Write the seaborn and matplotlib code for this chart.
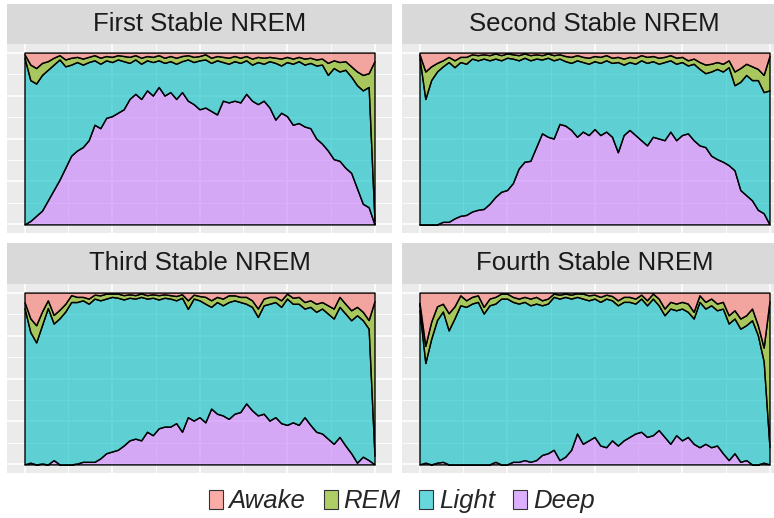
import numpy as np
import pandas as pd
import matplotlib
matplotlib.use("Agg")
import matplotlib.pyplot as plt
from matplotlib.patches import Patch, Rectangle
from matplotlib.colors import to_rgba
import seaborn as sns

# ---------------- data (proportion of epochs in each stage) ----------------
panel_titles = ["First Stable NREM", "Second Stable NREM",
                "Third Stable NREM", "Fourth Stable NREM"]
stages = ["Awake", "REM", "Light", "Deep"]
stage_colors = ["#F8766D", "#7CAE00", "#00BFC4", "#C77CFF"]

p1_deep = [0.00, 0.02, 0.05, 0.08, 0.14, 0.20, 0.26, 0.33, 0.40, 0.43,
           0.45, 0.49, 0.58, 0.56, 0.62, 0.63, 0.65, 0.67, 0.73, 0.76,
           0.73, 0.78, 0.75, 0.80, 0.75, 0.77, 0.73, 0.77, 0.72, 0.70,
           0.67, 0.68, 0.66, 0.64, 0.72, 0.71, 0.72, 0.71, 0.76, 0.72,
           0.70, 0.72, 0.68, 0.61, 0.65, 0.63, 0.58, 0.59, 0.57, 0.56,
           0.50, 0.47, 0.43, 0.38, 0.37, 0.33, 0.30, 0.21, 0.12, 0.10,
           0.00]
p1_light = [0.97, 0.82, 0.77, 0.79, 0.76, 0.73, 0.70, 0.59, 0.53, 0.515,
            0.48, 0.455, 0.375, 0.375, 0.335, 0.315, 0.31, 0.28, 0.21, 0.20,
            0.205, 0.175, 0.195, 0.155, 0.19, 0.18, 0.205, 0.18, 0.24, 0.245,
            0.285, 0.28, 0.28, 0.315, 0.225, 0.225, 0.23, 0.23, 0.195, 0.21,
            0.245, 0.215, 0.27, 0.33, 0.275, 0.315, 0.355, 0.36, 0.36, 0.38,
            0.425, 0.46, 0.44, 0.53, 0.52, 0.57, 0.56, 0.60, 0.66, 0.70,
            0.02]
p1_rem = [0.02, 0.09, 0.09, 0.07, 0.05, 0.04, 0.025, 0.04, 0.04, 0.03,
          0.035, 0.03, 0.03, 0.035, 0.025, 0.03, 0.025, 0.03, 0.035, 0.025,
          0.035, 0.025, 0.03, 0.03, 0.03, 0.03, 0.035, 0.03, 0.025, 0.03,
          0.025, 0.03, 0.03, 0.025, 0.03, 0.035, 0.03, 0.03, 0.025, 0.035,
          0.03, 0.035, 0.025, 0.03, 0.04, 0.03, 0.03, 0.025, 0.035, 0.03,
          0.035, 0.035, 0.07, 0.045, 0.055, 0.05, 0.06, 0.08, 0.09, 0.08,
          0.93]
p1_awake = [0.01, 0.07, 0.09, 0.06, 0.05, 0.03, 0.015, 0.04, 0.03, 0.025,
            0.035, 0.025, 0.015, 0.03, 0.02, 0.025, 0.015, 0.02, 0.025, 0.015,
            0.03, 0.02, 0.025, 0.015, 0.03, 0.02, 0.03, 0.02, 0.015, 0.025,
            0.02, 0.01, 0.03, 0.02, 0.025, 0.03, 0.02, 0.03, 0.02, 0.035,
            0.025, 0.03, 0.025, 0.03, 0.035, 0.025, 0.035, 0.025, 0.035, 0.03,
            0.04, 0.035, 0.06, 0.045, 0.055, 0.05, 0.08, 0.11, 0.13, 0.12,
            0.05]

p2_deep = [0, 0, 0, 0, 0.015, 0.015, 0.035, 0.05, 0.055, 0.075,
           0.085, 0.09, 0.12, 0.16, 0.19, 0.20, 0.24, 0.325, 0.365, 0.37,
           0.45, 0.53, 0.51, 0.50, 0.585, 0.575, 0.55, 0.51, 0.54, 0.52,
           0.555, 0.52, 0.54, 0.51, 0.42, 0.52, 0.55, 0.52, 0.49, 0.46,
           0.51, 0.50, 0.49, 0.54, 0.49, 0.52, 0.53, 0.49, 0.46, 0.45,
           0.40, 0.38, 0.365, 0.345, 0.315, 0.20, 0.17, 0.14, 0.085, 0.065,
           0]
p2_light = [0.97, 0.73, 0.84, 0.89, 0.905, 0.93, 0.88, 0.895, 0.88, 0.89,
            0.87, 0.875, 0.835, 0.805, 0.765, 0.77, 0.725, 0.63, 0.605, 0.585,
            0.515, 0.43, 0.46, 0.455, 0.38, 0.375, 0.39, 0.445, 0.405, 0.415,
            0.395, 0.42, 0.415, 0.43, 0.525, 0.41, 0.395, 0.415, 0.465, 0.48,
            0.44, 0.435, 0.455, 0.415, 0.445, 0.425, 0.395, 0.445, 0.445, 0.43,
            0.49, 0.525, 0.525, 0.57, 0.495, 0.63, 0.70, 0.70, 0.755, 0.705,
            0.78]
p2_rem = [0.02, 0.16, 0.08, 0.05, 0.035, 0.03, 0.04, 0.03, 0.04, 0.025,
          0.03, 0.025, 0.03, 0.03, 0.03, 0.025, 0.025, 0.03, 0.025, 0.03,
          0.025, 0.025, 0.025, 0.03, 0.025, 0.03, 0.035, 0.03, 0.03, 0.035,
          0.03, 0.035, 0.03, 0.03, 0.03, 0.035, 0.03, 0.035, 0.03, 0.035,
          0.03, 0.035, 0.03, 0.03, 0.035, 0.03, 0.03, 0.03, 0.04, 0.05,
          0.045, 0.04, 0.045, 0.04, 0.08, 0.08, 0.065, 0.08, 0.065, 0.10,
          0.20]
p2_awake = [0.01, 0.11, 0.08, 0.06, 0.045, 0.025, 0.045, 0.025, 0.025, 0.01,
            0.015, 0.01, 0.015, 0.005, 0.015, 0.005, 0.01, 0.015, 0.005, 0.015,
            0.01, 0.015, 0.005, 0.015, 0.01, 0.02, 0.025, 0.015, 0.025, 0.03,
            0.02, 0.025, 0.015, 0.03, 0.025, 0.035, 0.025, 0.03, 0.015, 0.025,
            0.02, 0.03, 0.025, 0.015, 0.03, 0.025, 0.045, 0.035, 0.055, 0.07,
            0.065, 0.055, 0.065, 0.045, 0.11, 0.09, 0.065, 0.08, 0.095, 0.13,
            0.02]

p3_deep = [0, 0.01, 0, 0.005, 0, 0.025, 0, 0, 0, 0.005,
           0.015, 0.015, 0.015, 0.035, 0.065, 0.075, 0.085, 0.11, 0.14, 0.15,
           0.14, 0.19, 0.17, 0.21, 0.22, 0.22, 0.24, 0.19, 0.275, 0.255,
           0.275, 0.245, 0.325, 0.295, 0.285, 0.265, 0.295, 0.305, 0.355, 0.315,
           0.285, 0.295, 0.255, 0.275, 0.24, 0.23, 0.245, 0.23, 0.275, 0.23,
           0.19, 0.18, 0.15, 0.12, 0.16, 0.11, 0.065, 0.01, 0.045, 0.025,
           0]
p3_light = [0.91, 0.76, 0.71, 0.805, 0.91, 0.795, 0.85, 0.89, 0.945, 0.94,
            0.94, 0.92, 0.95, 0.92, 0.90, 0.90, 0.885, 0.85, 0.83, 0.815,
            0.835, 0.775, 0.80, 0.75, 0.75, 0.745, 0.715, 0.78, 0.63, 0.71,
            0.68, 0.69, 0.592, 0.65, 0.641, 0.68, 0.66, 0.64, 0.58, 0.602,
            0.573, 0.631, 0.68, 0.67, 0.677, 0.735, 0.69, 0.705, 0.632, 0.687,
            0.698, 0.727, 0.728, 0.729, 0.757, 0.768, 0.774, 0.858, 0.794, 0.765,
            0.05]
p3_rem = [0.035, 0.08, 0.10, 0.08, 0.045, 0.05, 0.05, 0.045, 0.04, 0.03,
          0.02, 0.03, 0.023, 0.029, 0.029, 0.019, 0.024, 0.025, 0.02, 0.02,
          0.02, 0.02, 0.02, 0.025, 0.02, 0.02, 0.025, 0.02, 0.05, 0.023,
          0.025, 0.04, 0.038, 0.03, 0.039, 0.039, 0.029, 0.03, 0.04, 0.038,
          0.049, 0.039, 0.04, 0.03, 0.038, 0.029, 0.035, 0.04, 0.038, 0.038,
          0.047, 0.038, 0.048, 0.058, 0.058, 0.057, 0.058, 0.049, 0.049, 0.05,
          0.90]
p3_awake = [0.055, 0.15, 0.19, 0.11, 0.045, 0.13, 0.10, 0.065, 0.015, 0.025,
            0.025, 0.035, 0.012, 0.016, 0.006, 0.006, 0.006, 0.015, 0.01, 0.015,
            0.005, 0.015, 0.01, 0.015, 0.01, 0.015, 0.02, 0.01, 0.045, 0.012,
            0.02, 0.025, 0.045, 0.025, 0.035, 0.016, 0.016, 0.025, 0.025, 0.045,
            0.093, 0.035, 0.025, 0.025, 0.045, 0.006, 0.03, 0.025, 0.055, 0.045,
            0.065, 0.055, 0.074, 0.093, 0.025, 0.065, 0.103, 0.083, 0.112, 0.16,
            0.05]

p4_deep = [0, 0.01, 0, 0.01, 0.015, 0, 0, 0, 0, 0,
           0, 0, 0, 0.015, 0, 0, 0.015, 0.015, 0.025, 0.015,
           0.025, 0.055, 0.065, 0.085, 0.025, 0.045, 0.085, 0.18, 0.12, 0.14,
           0.16, 0.11, 0.10, 0.14, 0.11, 0.14, 0.16, 0.18, 0.19, 0.16,
           0.17, 0.20, 0.16, 0.12, 0.17, 0.14, 0.16, 0.12, 0.10, 0.12,
           0.10, 0.11, 0.065, 0.025, 0.065, 0.015, 0.025, 0, 0, 0.01,
           0]
p4_light = [0.90, 0.58, 0.73, 0.83, 0.875, 0.78, 0.85, 0.926, 0.917, 0.936,
            0.946, 0.878, 0.926, 0.921, 0.965, 0.965, 0.931, 0.921, 0.921, 0.911,
            0.911, 0.871, 0.871, 0.89, 0.94, 0.93, 0.88, 0.795, 0.845, 0.815,
            0.805, 0.836, 0.865, 0.815, 0.816, 0.806, 0.786, 0.756, 0.775, 0.766,
            0.795, 0.726, 0.708, 0.787, 0.727, 0.767, 0.728, 0.729, 0.846, 0.787,
            0.826, 0.787, 0.842, 0.795, 0.784, 0.775, 0.785, 0.839, 0.752, 0.59,
            0.10]
p4_rem = [0.04, 0.10, 0.10, 0.08, 0.045, 0.10, 0.07, 0.058, 0.038, 0.039,
          0.038, 0.039, 0.039, 0.039, 0.029, 0.029, 0.029, 0.029, 0.029, 0.039,
          0.039, 0.029, 0.029, 0.019, 0.023, 0.019, 0.023, 0.021, 0.029, 0.029,
          0.023, 0.029, 0.023, 0.025, 0.029, 0.029, 0.029, 0.029, 0.023, 0.029,
          0.029, 0.039, 0.039, 0.039, 0.039, 0.039, 0.048, 0.039, 0.038, 0.039,
          0.039, 0.039, 0.039, 0.048, 0.048, 0.059, 0.058, 0.068, 0.058, 0.08,
          0.85]
p4_awake = [0.06, 0.31, 0.17, 0.08, 0.065, 0.12, 0.08, 0.016, 0.045, 0.025,
            0.016, 0.083, 0.035, 0.025, 0.006, 0.006, 0.025, 0.035, 0.025, 0.035,
            0.025, 0.045, 0.035, 0.006, 0.012, 0.006, 0.012, 0.004, 0.006, 0.016,
            0.012, 0.025, 0.012, 0.02, 0.045, 0.025, 0.025, 0.035, 0.012, 0.045,
            0.006, 0.035, 0.093, 0.054, 0.064, 0.054, 0.064, 0.112, 0.016, 0.054,
            0.035, 0.064, 0.054, 0.132, 0.103, 0.151, 0.132, 0.093, 0.19, 0.32,
            0.05]

panel_data = [
    {"Deep": p1_deep, "Light": p1_light, "REM": p1_rem, "Awake": p1_awake},
    {"Deep": p2_deep, "Light": p2_light, "REM": p2_rem, "Awake": p2_awake},
    {"Deep": p3_deep, "Light": p3_light, "REM": p3_rem, "Awake": p3_awake},
    {"Deep": p4_deep, "Light": p4_light, "REM": p4_rem, "Awake": p4_awake},
]

# ---------------- style ----------------
sns.set_theme(style="darkgrid", rc={
    "axes.facecolor": "#EBEBEB",
    "figure.facecolor": "white",
    "grid.color": "white",
})
plt.rcParams["font.family"] = ["Liberation Sans", "DejaVu Sans"]

W, H = 774, 518
fig = plt.figure(figsize=(W / 100, H / 100), dpi=100)

def px_rect(x0, y0, x1, y1):
    return [x0 / W, 1 - y1 / H, (x1 - x0) / W, (y1 - y0) / H]

panel_boxes = [(7, 44, 392, 233), (402, 44, 787, 233),
               (7, 284, 392, 473), (402, 284, 787, 473)]
strip_boxes = [(7, 4, 392, 44), (402, 4, 787, 44),
               (7, 243, 392, 284), (402, 243, 787, 284)]

color_map = dict(zip(stages, stage_colors))
stack_order = ["Deep", "Light", "REM", "Awake"]
alpha = 0.6

for k in range(4):
    ax = fig.add_axes(px_rect(*panel_boxes[k]))
    df = pd.DataFrame(panel_data[k])
    df = df.div(df.sum(axis=1), axis=0)  # position = "fill"
    x = np.arange(len(df))
    n = len(df) - 1
    ax.stackplot(x, *[df[s].values for s in stack_order],
                 colors=[to_rgba(color_map[s], alpha) for s in stack_order],
                 edgecolor="black", linewidth=1.0, zorder=2)
    ax.set_xlim(-0.05 * n, n * 1.05)
    ax.set_ylim(-0.05, 1.05)
    ax.set_xticks(np.linspace(0, n, 5))
    ax.set_xticks(np.linspace(0, n, 9), minor=True)
    ax.set_yticks(np.linspace(0, 1, 5))
    ax.set_yticks(np.linspace(0, 1, 9), minor=True)
    ax.grid(which="major", color="white", linewidth=1.1, zorder=0)
    ax.grid(which="minor", color="white", linewidth=0.6, zorder=0)
    ax.set_axisbelow(True)
    ax.tick_params(which="both", length=0, labelbottom=False, labelleft=False)
    for sp in ax.spines.values():
        sp.set_visible(False)

    sx0, sy0, sx1, sy1 = strip_boxes[k]
    fig.patches.append(Rectangle((sx0 / W, 1 - sy1 / H), (sx1 - sx0) / W,
                                 (sy1 - sy0) / H, transform=fig.transFigure,
                                 facecolor="#D9D9D9", edgecolor="none"))
    fig.text((sx0 + sx1) / 2 / W, 1 - (sy0 + sy1) / 2 / H, panel_titles[k],
             ha="center", va="center", fontsize=18.5, color="#1A1A1A")

handles = [Patch(facecolor=to_rgba(color_map[s], alpha), edgecolor="#333333",
                 linewidth=0.8, label=s) for s in stages]
fig.legend(handles=handles, loc="center", bbox_to_anchor=(0.519, 0.032),
           ncol=4, frameon=False,
           prop={"family": "Liberation Sans", "style": "italic", "size": 18.5},
           handlelength=0.55, handleheight=0.74, handletextpad=0.23,
           columnspacing=0.7, borderpad=0, borderaxespad=0)

fig.savefig("out.png", dpi=100)
